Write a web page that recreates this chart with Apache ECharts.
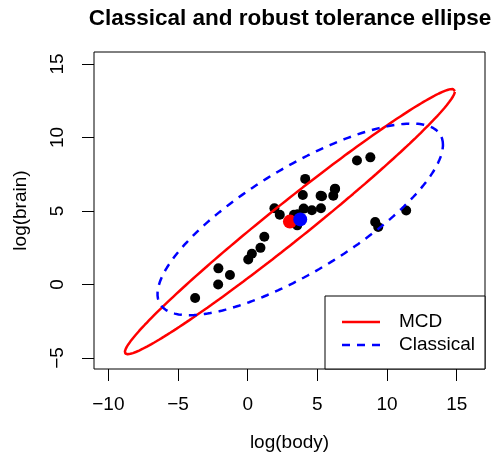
<!DOCTYPE html>
<html>
<head>
<meta charset="utf-8">
<script src="https://cdn.jsdelivr.net/npm/echarts@6/dist/echarts.min.js"></script>
<style>
  html, body { margin: 0; padding: 0; background: #fff; }
  #chart { width: 504px; height: 461px; }
</style>
</head>
<body>
<div id="chart"></div>
<script>
// Animals: natural log of body weight (kg) and brain weight (g)
const logBody = [0.300, 6.142, 3.593, 3.320, 0.039, 9.367, 7.843, 5.232, 6.256, 2.303,
  1.194, 6.271, 5.333, 4.127, 8.803, 9.148, 1.917, 3.555, -2.120, -3.772,
  0.916, 4.016, 4.605, 3.954, -1.273, 11.374, -2.103, 5.257];
const logBrain = [2.092, 6.047, 4.783, 4.745, 1.705, 3.912, 8.434, 6.038, 6.485, 4.745,
  3.243, 6.522, 6.006, 7.185, 8.650, 4.248, 5.187, 4.025, 0.000, -0.916,
  2.493, 5.165, 5.056, 6.087, 0.642, 5.040, 1.099, 5.193];

// Location estimates [x, y] and scatter matrices [sxx, sxy, syy]
const mcdCenter = [3.03, 4.28];
const mcdCov = [19.02, 14.25, 11.04];
const classicalCenter = [3.77, 4.43];
const classicalCov = [14.22, 7.05, 5.76];
const chiSq975 = 7.378; // 97.5% quantile of chi-square with 2 df

const xTicks = [-10, -5, 0, 5, 10, 15];
const yTicks = [-5, 0, 5, 10, 15];

// Tolerance ellipse outline: center + sqrt(q) * chol(S) * (cos t, sin t)
function ellipse(center, cov, q, n) {
  const l11 = Math.sqrt(cov[0]);
  const l21 = cov[1] / l11;
  const l22 = Math.sqrt(cov[2] - l21 * l21);
  const r = Math.sqrt(q);
  const pts = [];
  for (let i = 0; i <= n; i++) {
    const t = 2 * Math.PI * i / n;
    const u = Math.cos(t), v = Math.sin(t);
    pts.push([center[0] + r * l11 * u, center[1] + r * (l21 * u + l22 * v)]);
  }
  return pts;
}

const points = logBody.map((x, i) => [x, logBrain[i]]);
const fmt = v => (v < 0 ? '\u2212' + Math.abs(v) : String(v));
const FONT = '"Liberation Sans", Arial, Helvetica, sans-serif';

const chart = echarts.init(document.getElementById('chart'), null, { renderer: 'canvas' });
chart.setOption({
  animation: false,
  backgroundColor: '#fff',
  textStyle: { fontFamily: FONT },
  grid: { left: 94, right: 19, top: 52, bottom: 92, show: true, borderColor: '#000', borderWidth: 1, backgroundColor: 'transparent' },
  xAxis: {
    type: 'value', min: -11.03, max: 17.03,
    splitLine: { show: false },
    axisLine: { show: false, onZero: false },
    axisTick: { show: true, customValues: xTicks, length: 12, lineStyle: { color: '#000', width: 1 } },
    axisLabel: { customValues: xTicks, formatter: fmt, color: '#000', fontSize: 19, fontFamily: FONT, margin: 26 },
    name: 'log(body)', nameLocation: 'middle', nameGap: 64,
    nameTextStyle: { color: '#000', fontSize: 19, fontFamily: FONT }
  },
  yAxis: {
    type: 'value', min: -5.75, max: 15.82,
    splitLine: { show: false },
    axisLine: { show: false, onZero: false },
    axisTick: { show: true, customValues: yTicks, length: 12, lineStyle: { color: '#000', width: 1 } },
    axisLabel: { customValues: yTicks, formatter: fmt, rotate: 90, color: '#000', fontSize: 19, fontFamily: FONT, margin: 27 },
    name: 'log(brain)', nameLocation: 'middle', nameGap: 64,
    nameTextStyle: { color: '#000', fontSize: 19, fontFamily: FONT }
  },
  graphic: [
    { type: 'text', x: 290, y: 19,
      style: { text: 'Classical and robust tolerance ellipse', align: 'center', verticalAlign: 'middle',
        font: 'bold 22.5px ' + FONT, fill: '#000' } },
    { type: 'rect', shape: { x: 325, y: 296, width: 160, height: 73 },
      style: { fill: '#fff', stroke: '#000', lineWidth: 1 }, z: 10 },
    { type: 'line', shape: { x1: 342, y1: 322, x2: 380, y2: 322 },
      style: { stroke: '#ff0000', lineWidth: 2.5 }, z: 11 },
    { type: 'line', shape: { x1: 342, y1: 345, x2: 380, y2: 345 },
      style: { stroke: '#0000ff', lineWidth: 2.5, lineDash: [8, 7] }, z: 11 },
    { type: 'text', x: 399, y: 322, style: { text: 'MCD', verticalAlign: 'middle', font: '19px ' + FONT, fill: '#000' }, z: 11 },
    { type: 'text', x: 399, y: 345, style: { text: 'Classical', verticalAlign: 'middle', font: '19px ' + FONT, fill: '#000' }, z: 11 }
  ],
  series: [
    { type: 'scatter', data: points, symbol: 'circle', symbolSize: 10,
      itemStyle: { color: '#000', opacity: 1 }, z: 2 },
    { type: 'line', data: ellipse(mcdCenter, mcdCov, chiSq975, 240), symbol: 'none',
      lineStyle: { color: '#ff0000', width: 2.5 }, z: 3 },
    { type: 'line', data: ellipse(classicalCenter, classicalCov, chiSq975, 240), symbol: 'none',
      lineStyle: { color: '#0000ff', width: 2.5, type: [8, 7] }, z: 3 },
    { type: 'scatter', data: [mcdCenter], symbol: 'circle', symbolSize: 14,
      itemStyle: { color: '#ff0000', opacity: 1 }, z: 4 },
    { type: 'scatter', data: [classicalCenter], symbol: 'circle', symbolSize: 14,
      itemStyle: { color: '#0000ff', opacity: 1 }, z: 5 }
  ]
});
</script>
</body>
</html>
